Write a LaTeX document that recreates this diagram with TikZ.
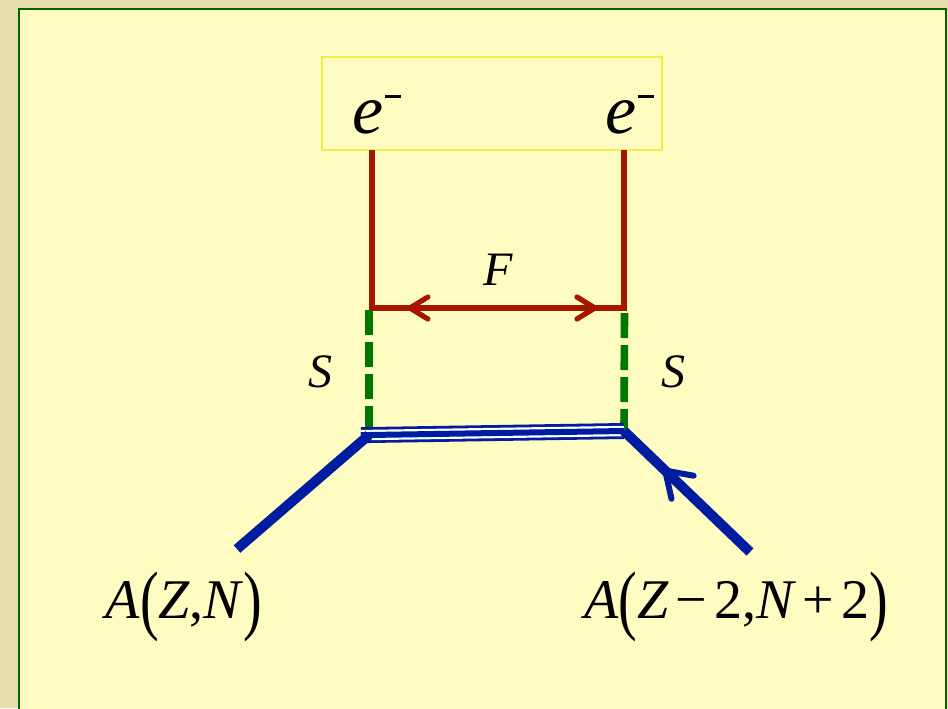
\documentclass[tikz,border=0pt]{standalone}
\usepackage{fontspec}
\setmainfont{Liberation Serif}
\usepackage{graphicx}
\usepackage{tikz}
\usetikzlibrary{arrows.meta,positioning,calc,decorations.markings}
\definecolor{slidetan}{RGB}{232,222,171}
\definecolor{slidepad}{RGB}{255,252,194}
\definecolor{slidegreen}{RGB}{0,100,0}
\definecolor{boxyellow}{RGB}{238,238,70}
\definecolor{fermired}{RGB}{165,22,0}
\definecolor{scalargreen}{RGB}{0,120,0}
\definecolor{nucblue}{RGB}{0,28,160}
\newcommand{\bpar}[1]{\raisebox{-0.13em}{\scalebox{1}[1.38]{#1}}}
\newcommand{\emin}{\hspace{0.5pt}\raisebox{17.5pt}{\rule{8pt}{1.3pt}}}

\begin{document}
\begin{tikzpicture}[
    x=0.5pt, y=-0.5pt,
    every node/.style={inner sep=0pt, outer sep=0pt},
    ebox/.style={rectangle, draw=boxyellow, line width=0.8pt, fill=slidepad,
                 minimum width=170pt, minimum height=46.5pt},
    elab/.style={font=\fontsize{35}{35}\selectfont\itshape, anchor=base},
    slab/.style={font=\fontsize{24}{24}\selectfont\itshape, anchor=base},
    nlab/.style={font=\fontsize{28}{28}\selectfont, anchor=base},
    fline/.style={draw=fermired, line width=2.6pt},
    farrow/.style={{Straight Barb[length=9pt,width=11pt,round]}-{Straight Barb[length=9pt,width=11pt,round]},
                   draw=fermired, line width=2.6pt},
    sline/.style={draw=scalargreen, line width=3.8pt, dash pattern=on 12.5pt off 3.5pt},
    leg/.style={draw=nucblue, line width=5pt},
    legarrow/.style={postaction={decorate, decoration={markings,
                     mark=at position 0.69 with {\arrow{Straight Barb[length=12pt,width=16pt,line width=3pt,round]}}}}}
]

% Slide background
\fill[slidetan] (0,0) rectangle (948,708);
\useasboundingbox (0,0) rectangle (948,708);
\filldraw[fill=slidepad, draw=slidegreen, line width=1.1pt] (19,9) rectangle (946,730);

% Electrons
\node[ebox] (box) at (492,103.5) {};
\node[elab] (e1) at (377,133) {e\emin};
\node[elab] (e2) at (630,133) {e\emin};

% Vertices
\coordinate (t1) at (372,150);
\coordinate (t2) at (624,150);
\coordinate (c1) at (372,308);
\coordinate (c2) at (624,308);
\coordinate (v1) at (369,435);
\coordinate (v2) at (624,431);
\coordinate (p1) at (237,549);
\coordinate (p2) at (750,552);

% Labels
\node[slab] (F)  at (498,285) {F};
\node[slab] (s1) at (320,387) {S};
\node[slab] (s2) at (673,387) {S};
\node[nlab] (a1) at (184,618) {\textit{A}\bpar{(}\textit{Z},\textit{N}\bpar{)}};
\node[nlab] (a2) at (736,618) {\textit{A}\bpar{(}\textit{Z}\hspace{0.12em}−\hspace{0.12em}2,\textit{N}\hspace{0.12em}+\hspace{0.12em}2\bpar{)}};

% Fermion lines
\draw[fline, line join=miter] (t1) -- (c1) -- (c2) -- (t2);
\draw[farrow] ($(c1)!0.14!(c2)$) -- ($(c2)!0.105!(c1)$);

% Scalar lines
\draw[sline] (369,310) -- (v1);
\draw[sline] (624.5,313) -- (v2);

% Nucleus line
\draw[nucblue, line width=8pt, shorten <=-4pt] (v1) -- (v2);
\draw[white, line width=5.2pt, shorten <=-4pt] (v1) -- (v2);
\draw[nucblue, line width=3pt, shorten <=-4pt] (v1) -- (v2);

% Legs
\draw[leg] (v1) -- (p1);
\draw[leg, legarrow] (p2) -- (v2);

\end{tikzpicture}
\end{document}
